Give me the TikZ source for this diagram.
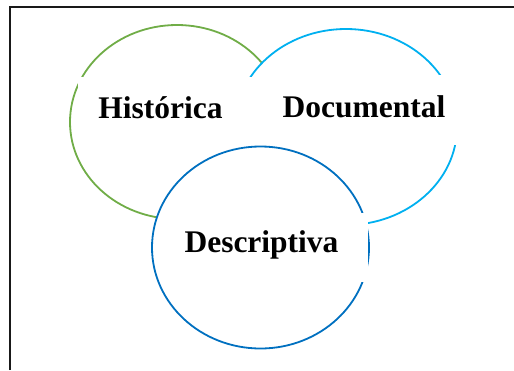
\documentclass[tikz,border=0pt]{standalone}
\usepackage{fontspec}
\setmainfont{Liberation Serif}
\definecolor{vgreen}{HTML}{70AD47}
\definecolor{vcyan}{HTML}{00B0F0}
\definecolor{vblue}{HTML}{0070C0}
\begin{document}
\begin{tikzpicture}[x=1pt,y=-1pt,
  ring/.style={line width=1.8pt, fill=white},
  cover/.style={fill=white, draw=none},
  lbl/.style={inner sep=0pt, anchor=base, font=\bfseries\fontsize{31.5}{36}\selectfont}]
\useasboundingbox (0,0) rectangle (514,370);
% frame
\draw[line width=2pt, black!90] (10,370) -- (10,7) -- (514,7);
% circles
\draw[draw=vgreen, ring] (177,122) ellipse [x radius=107pt, y radius=97pt];
\draw[draw=vcyan, ring] (346,127) ellipse [x radius=111pt, y radius=98pt];
% text boxes of the upper circles
\path[cover] (78,77) rectangle (262,151);
\path[cover] (262,75) rectangle (466,145);
\draw[draw=vblue, ring] (260.5,247.5) ellipse [x radius=108.5pt, y radius=101pt];
\path[cover] (175,213) rectangle (368,282);
% labels
\node[lbl] (hist) at (160.5,118) {Histórica};
\node[lbl] (doc) at (364,117) {Documental};
\node[lbl] (desc) at (261.5,252) {Descriptiva};
\end{tikzpicture}
\end{document}
